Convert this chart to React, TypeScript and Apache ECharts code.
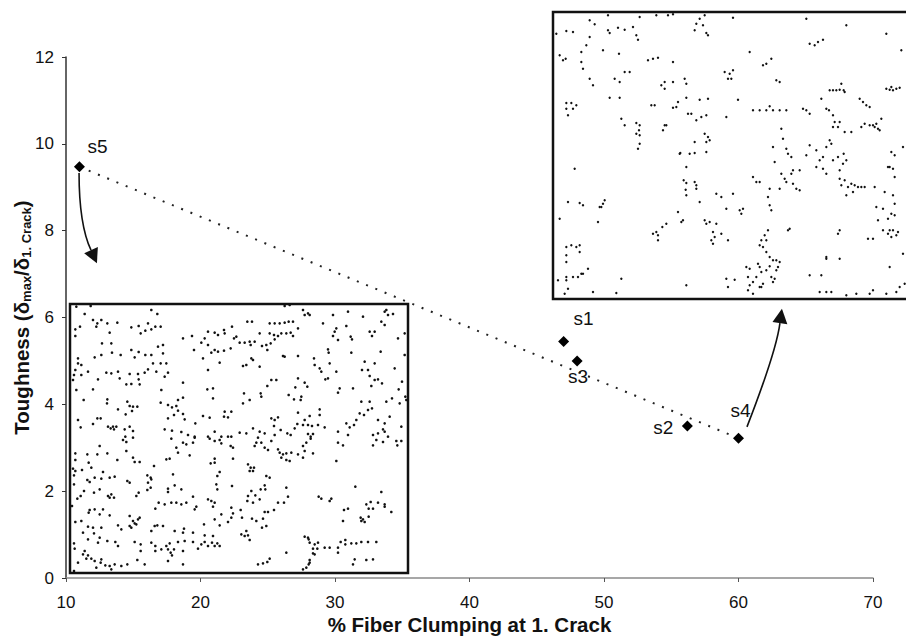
import React, { useEffect, useRef } from "react";
import * as echarts from "echarts";

// ---- main data ----
const sampleNames = ["s5", "s1", "s3", "s2", "s4"];
const clumping = [11, 47, 48, 56.2, 60];
const toughness = [9.47, 5.45, 5.0, 3.5, 3.22];
const trendX = [11, 60];
const trendY = [9.47, 3.22];

// label placement (styling, px offsets from the marker)
const labelOffsets: Record<string, [number, number]> = {
  s5: [18, -20],
  s1: [20, -23],
  s3: [1, 16],
  s2: [-24, 1],
  s4: [2, -28],
};

// arrows in data coordinates: start, control, arrow-base, tip
const arrowLow = [[10.97, 9.33], [10.97, 8.14], [11.86, 7.55], [12.3, 7.25]];
const arrowHigh = [[60.63, 3.48], [62.82, 5.23], [63.08, 5.87], [63.23, 6.2]];

// ---- micrograph fiber positions (inset images), read in tiles ----
// left micrograph (units: 1/3 px), tiles NW, NE(+510 x), SW(+408 y), SE(+510,+408)
const leftNW = [[25,20],[68,18],[50,42],[75,60],[88,70],[85,80],[118,70],[148,68],[125,98],[100,60],[22,88],[22,108],[36,80],[190,82],[212,78],[218,100],[240,70],[232,92],[250,88],[262,80],[268,42],[250,30],[278,80],[102,130],[132,158],[130,130],[80,172],[100,165],[158,165],[190,150],[212,156],[200,172],[232,165],[250,165],[270,140],[285,135],[285,160],[278,190],[255,190],[295,190],[30,175],[30,190],[40,195],[22,210],[18,225],[15,240],[40,225],[60,215],[115,218],[130,220],[150,215],[185,222],[210,222],[230,218],[240,208],[265,215],[290,230],[300,218],[90,238],[155,235],[175,253],[190,252],[215,253],[212,238],[25,270],[75,268],[47,300],[118,298],[117,310],[178,305],[185,318],[195,320],[208,320],[192,333],[150,328],[173,343],[88,355],[98,355],[30,360],[38,382],[75,372],[120,380],[128,385],[135,380],[145,380],[138,388],[170,388],[185,380],[195,393],[172,410],[280,270],[278,308],[300,315],[312,322],[325,318],[330,332],[345,293],[330,300],[345,342],[318,345],[300,355],[350,358],[382,370],[290,388],[312,392],[340,396],[360,405],[380,410],[420,410],[440,395],[460,410],[490,410],[418,268],[435,265],[435,295],[405,348],[425,353],[468,350],[480,352],[490,335],[470,335],[420,210],[345,248],[345,115],[372,108],[400,128],[410,115],[420,95],[440,98],[450,105],[468,90],[492,80],[498,115],[505,110],[488,145],[468,152],[450,155],[430,158],[440,150],[420,135],[405,175],[455,188],[470,100],[378,150]];
const leftNE = [[140,18],[155,15],[195,30],[210,40],[200,45],[215,45],[285,45],[330,35],[375,50],[440,35],[450,45],[465,42],[445,30],[430,65],[440,75],[28,65],[42,65],[95,70],[110,70],[125,70],[140,68],[152,65],[165,65],[180,85],[95,100],[108,105],[120,108],[130,100],[145,100],[158,98],[165,108],[255,70],[290,95],[295,85],[285,108],[300,120],[325,78],[338,110],[342,118],[395,95],[410,95],[402,108],[480,115],[500,100],[5,128],[20,128],[35,125],[50,125],[38,135],[65,100],[72,138],[85,135],[98,130],[110,118],[88,150],[135,168],[140,170],[180,168],[270,148],[272,158],[340,158],[428,155],[40,175],[45,180],[25,195],[15,198],[65,200],[228,175],[245,205],[250,215],[230,195],[275,190],[295,215],[270,235],[262,238],[380,185],[410,190],[372,210],[390,210],[500,165],[470,205],[395,228],[410,240],[420,238],[432,250],[492,245],[180,235],[200,248],[208,260],[100,240],[115,240],[88,258],[18,280],[68,280],[70,290],[35,300],[15,310],[172,262],[152,285],[168,298],[190,290],[188,300],[300,278],[305,265],[345,265],[400,258],[482,268],[370,305],[395,305],[402,325],[390,330],[378,345],[365,340],[445,305],[462,295],[505,300],[485,310],[502,290],[325,370],[348,375],[355,360],[335,382],[420,360],[455,350],[440,370],[435,388],[405,405],[420,400],[490,380],[100,355],[110,360],[120,352],[108,378],[180,338],[200,360],[215,348],[245,328],[245,345],[260,382],[178,372],[195,375],[210,375],[222,378],[240,375],[170,385],[158,405],[210,402],[225,402],[218,410],[5,398],[25,400],[45,385],[65,395],[80,400],[110,405],[128,390],[148,400],[300,395],[330,405],[415,420],[450,410],[440,395]];
const leftSW = [[165,12],[175,18],[195,5],[310,8],[325,35],[330,50],[345,20],[355,25],[375,20],[380,5],[425,8],[440,15],[455,12],[460,22],[488,30],[495,35],[480,2],[22,52],[58,55],[88,55],[118,52],[95,30],[175,45],[195,65],[200,78],[215,78],[148,72],[22,72],[15,98],[22,105],[18,118],[42,102],[62,80],[70,95],[105,108],[80,125],[65,138],[58,132],[100,128],[125,125],[140,122],[178,135],[185,140],[258,90],[295,70],[305,68],[365,58],[428,82],[440,80],[440,68],[455,108],[448,120],[495,68],[492,150],[445,145],[448,160],[18,145],[48,165],[78,170],[95,160],[120,180],[125,185],[130,175],[138,185],[212,170],[205,180],[238,118],[248,125],[240,140],[248,155],[238,162],[250,130],[315,115],[320,148],[300,158],[300,168],[340,160],[375,182],[355,200],[340,205],[325,200],[310,200],[290,205],[272,200],[385,212],[380,220],[420,190],[430,195],[440,200],[435,212],[460,235],[490,215],[490,245],[480,258],[495,232],[28,188],[38,180],[12,210],[62,230],[65,222],[80,220],[95,235],[105,220],[125,238],[150,268],[185,240],[195,255],[200,262],[190,275],[205,265],[210,250],[215,245],[185,270],[160,280],[262,218],[260,270],[268,268],[285,270],[320,285],[348,278],[345,290],[250,285],[22,258],[40,255],[60,272],[75,275],[100,275],[45,290],[78,292],[60,310],[90,320],[118,315],[142,318],[150,330],[95,305],[18,322],[20,338],[50,345],[45,355],[60,358],[70,368],[55,368],[80,375],[100,370],[98,380],[112,388],[125,390],[140,385],[160,390],[178,385],[130,400],[85,395],[30,380],[200,318],[218,325],[218,345],[250,320],[262,330],[262,345],[280,340],[295,330],[300,340],[305,322],[308,350],[312,358],[318,340],[330,318],[345,345],[350,315],[375,318],[390,338],[400,325],[410,298],[410,318],[420,330],[432,320],[440,330],[448,322],[455,330],[435,300],[375,290],[208,372],[230,385],[300,375],[345,385],[408,265],[440,250],[455,268],[18,405]];
const leftSE = [[60,5],[55,20],[70,20],[80,35],[50,30],[100,15],[90,42],[120,40],[125,50],[135,55],[145,52],[130,65],[145,72],[155,75],[160,50],[180,55],[195,30],[200,45],[205,20],[218,8],[195,65],[225,52],[300,20],[315,28],[295,75],[405,28],[435,18],[475,15],[490,15],[478,28],[30,85],[38,95],[35,105],[45,105],[48,95],[85,120],[95,125],[80,148],[68,160],[82,160],[40,165],[52,178],[30,180],[45,200],[28,195],[65,190],[120,200],[138,200],[108,222],[150,182],[145,155],[242,182],[250,188],[280,188],[275,195],[352,152],[430,168],[398,198],[385,205],[420,200],[440,205],[392,218],[405,218],[368,245],[375,250],[380,258],[370,255],[392,242],[440,212],[460,228],[330,218],[318,222],[315,255],[8,222],[12,245],[42,248],[75,248],[80,228],[90,228],[55,255],[72,275],[85,270],[25,285],[30,298],[35,312],[200,302],[210,305],[215,320],[212,310],[225,338],[230,325],[240,320],[238,338],[225,352],[230,355],[260,335],[275,335],[300,335],[308,318],[322,312],[322,325],[340,322],[355,322],[370,318],[390,318],[415,318],[300,350],[145,350],[215,372],[212,385],[215,380],[195,400],[205,395],[60,385],[75,382],[88,378],[95,368],[350,370],[345,385],[385,372],[405,370],[10,295],[20,300]];
const leftTileOffsets = [[0, 0], [510, 0], [0, 408], [510, 408]];

// right micrograph (units: 1/3 px)
const rightFibers = [[50,100],[80,92],[100,95],[150,60],[165,72],[150,110],[140,135],[125,155],[190,150],[205,90],[210,98],[235,82],[255,88],[280,80],[290,105],[295,118],[205,45],[300,50],[350,45],[385,45],[400,42],[480,55],[495,45],[490,75],[470,70],[465,90],[500,98],[505,105],[580,52],[800,55],[920,75],[1040,100],[1085,150],[810,130],[825,135],[835,125],[850,118],[630,155],[670,195],[680,190],[695,175],[710,240],[720,245],[60,165],[70,180],[78,175],[125,185],[130,205],[150,235],[160,255],[238,160],[225,235],[240,245],[255,215],[270,215],[325,180],[340,175],[355,172],[400,185],[365,255],[375,245],[375,265],[400,245],[435,235],[440,250],[555,215],[570,220],[575,235],[565,235],[580,210],[210,292],[240,292],[335,315],[345,315],[400,322],[410,320],[415,305],[440,292],[445,340],[455,340],[480,298],[485,350],[500,345],[505,295],[595,298],[560,350],[470,360],[245,355],[255,375],[290,368],[300,375],[298,390],[290,400],[300,405],[300,430],[295,445],[375,375],[370,390],[380,375],[80,308],[95,308],[80,325],[100,325],[110,315],[85,345],[105,505],[495,400],[505,410],[510,420],[500,425],[465,425],[450,460],[465,458],[422,458],[500,455],[440,500],[432,540],[440,548],[465,545],[470,555],[470,565],[438,568],[420,460],[640,330],[660,330],[680,330],[700,330],[720,330],[740,330],[690,318],[790,325],[800,330],[810,340],[845,295],[860,325],[868,330],[880,345],[885,365],[880,380],[895,380],[900,365],[915,395],[935,395],[870,270],[880,270],[890,270],[900,268],[912,270],[905,250],[915,275],[960,295],[970,305],[980,315],[990,320],[965,380],[975,370],[990,375],[1000,375],[1005,380],[1015,385],[1020,390],[1025,355],[1010,370],[1040,265],[1050,268],[1060,270],[1070,265],[1080,262],[1055,260],[725,385],[730,415],[740,445],[745,460],[755,470],[700,440],[705,485],[760,510],[780,510],[800,465],[810,435],[830,450],[840,480],[830,500],[850,470],[850,505],[860,520],[880,480],[860,440],[870,420],[875,430],[912,460],[920,480],[895,470],[910,490],[900,510],[900,535],[915,540],[905,555],[925,560],[935,550],[945,555],[955,560],[965,560],[940,575],[920,585],[975,560],[1005,560],[1050,500],[1060,505],[1065,530],[1045,500],[1055,455],[1065,465],[1090,440],[640,530],[650,545],[660,545],[690,565],[685,590],[690,615],[695,630],[725,520],[735,535],[740,545],[760,550],[770,565],[780,570],[720,565],[755,520],[415,635],[425,665],[430,660],[440,585],[480,605],[495,660],[500,670],[510,665],[530,670],[520,695],[525,710],[515,720],[520,730],[565,720],[545,700],[530,580],[545,590],[580,580],[600,630],[610,625],[605,640],[560,625],[340,700],[350,695],[355,705],[355,720],[368,680],[380,670],[175,665],[195,600],[190,610],[185,620],[180,620],[130,615],[120,608],[85,605],[60,655],[80,740],[95,735],[80,765],[80,785],[110,740],[120,735],[120,755],[125,820],[130,820],[145,805],[115,830],[100,830],[80,840],[85,865],[75,880],[55,840],[80,830],[160,875],[230,878],[245,835],[440,855],[560,835],[565,860],[585,838],[620,800],[630,805],[625,830],[630,855],[640,845],[650,830],[655,790],[660,800],[665,815],[665,860],[670,850],[680,810],[690,798],[695,830],[700,845],[705,835],[710,810],[715,800],[720,785],[710,780],[690,770],[700,780],[680,755],[670,740],[660,735],[675,705],[680,720],[685,690],[665,720],[625,870],[640,880],[660,860],[810,825],[845,825],[860,775],[900,775],[840,875],[860,875],[875,875],[1050,800],[1060,690],[1045,700],[1055,710],[1070,705],[1075,695],[1050,690],[1030,690],[1000,715],[985,715],[1045,655],[1055,640],[1065,645],[1015,660],[1010,620],[1030,625],[1035,575],[1060,585],[1065,610],[1090,760],[1095,850],[1080,860],[1070,875],[1040,880],[1000,870],[990,880],[950,880],[920,885],[895,700],[900,690],[860,770],[750,685],[745,690]];

const FONT = "'Liberation Sans', Arial, Helvetica, sans-serif";

export default function App() {
  const ref = useRef<HTMLDivElement>(null);
  useEffect(() => {
    if (!ref.current) return;
    const chart = echarts.init(ref.current, undefined, { renderer: "svg" });

    const leftFibers: number[][] = [];
    [leftNW, leftNE, leftSW, leftSE].forEach((tile, i) => {
      const [ox, oy] = leftTileOffsets[i];
      tile.forEach(([x, y]) => leftFibers.push([x + ox, y + oy]));
    });

    const points = sampleNames.map((n, i) => ({
      name: n,
      value: [clumping[i], toughness[i]],
      label: {
        show: true,
        formatter: n,
        position: "inside",
        offset: labelOffsets[n],
        fontSize: 19,
        color: "#111111",
        fontFamily: FONT,
      },
    }));

    const dotStyle = { color: "#111111", opacity: 1 };

    chart.setOption({
      animation: false,
      backgroundColor: "#ffffff",
      textStyle: { fontFamily: FONT },
      grid: [
        { left: 66, right: 33, top: 57, bottom: 61, containLabel: false, outerBoundsMode: "none" },
        {
          left: 70, top: 304, width: 338, height: 269, show: true, outerBoundsMode: "none",
          backgroundColor: "#ffffff", borderColor: "#111111", borderWidth: 2.5, z: 5,
        },
        {
          left: 553, top: 12, width: 358, height: 287, show: true, outerBoundsMode: "none",
          backgroundColor: "#ffffff", borderColor: "#111111", borderWidth: 2.5, z: 5,
        },
      ],
      xAxis: [
        {
          type: "value", gridIndex: 0, min: 10, max: 70, interval: 10,
          name: "% Fiber Clumping at 1. Crack",
          nameLocation: "middle", nameGap: 36, nameMoveOverlap: false,
          nameTextStyle: { fontSize: 20.5, fontWeight: "bold", color: "#111111", fontFamily: FONT },
          axisLine: { show: true, onZero: false, lineStyle: { color: "#8a8a8a", width: 1.5 } },
          axisTick: { show: true, length: 4, lineStyle: { color: "#555" } },
          axisLabel: { fontSize: 17, color: "#111111", margin: 16, fontFamily: FONT },
          splitLine: { show: false },
        },
        { type: "value", gridIndex: 1, min: 6, max: 1020, show: false },
        { type: "value", gridIndex: 2, min: 40, max: 1114, show: false },
      ],
      yAxis: [
        {
          type: "value", gridIndex: 0, min: 0, max: 12, interval: 2,
          name: "{b|Toughness (δ}{s|max}{b|/δ}{s|1. Crack}{b|)}",
          nameLocation: "middle", nameGap: 32, nameMoveOverlap: false,
          nameTextStyle: {
            color: "#111111",
            rich: {
              b: { fontSize: 20.5, fontWeight: "bold", fontFamily: FONT, color: "#111111", lineHeight: 26 },
              s: { fontSize: 13, fontWeight: "bold", fontFamily: FONT, color: "#111111", padding: [11, 0, 0, 0] },
            },
          },
          axisLine: { show: true, onZero: false, lineStyle: { color: "#333", width: 1.5 } },
          axisTick: { show: true, length: 4, lineStyle: { color: "#333" } },
          axisLabel: { fontSize: 17, color: "#111111", margin: 12, fontFamily: FONT },
          splitLine: { show: false },
        },
        { type: "value", gridIndex: 1, min: 12, max: 819, inverse: true, show: false },
        { type: "value", gridIndex: 2, min: 35, max: 896, inverse: true, show: false },
      ],
      series: [
        {
          type: "line",
          xAxisIndex: 0, yAxisIndex: 0,
          data: trendX.map((x, i) => [x, trendY[i]]),
          symbol: "none",
          lineStyle: { color: "#222", width: 2, type: [2, 8] },
          z: 2,
        },
        {
          type: "scatter",
          xAxisIndex: 0, yAxisIndex: 0,
          data: points,
          symbol: "diamond",
          symbolSize: 11,
          itemStyle: { color: "#000000", opacity: 1 },
          z: 4,
        },
        {
          type: "scatter",
          xAxisIndex: 1, yAxisIndex: 1,
          data: leftFibers,
          symbol: "circle",
          symbolSize: 2.6,
          itemStyle: dotStyle,
          silent: true,
          z: 6,
        },
        {
          type: "scatter",
          xAxisIndex: 2, yAxisIndex: 2,
          data: rightFibers,
          symbol: "circle",
          symbolSize: 2.4,
          itemStyle: dotStyle,
          silent: true,
          z: 6,
        },
      ],
    });

    const px = (p: number[]) => chart.convertToPixel({ gridIndex: 0 }, p) as number[];
    const arrowGraphics = (a: number[][]) => {
      const [s, c, b, t] = a.map(px);
      const dx = t[0] - b[0];
      const dy = t[1] - b[1];
      const len = Math.hypot(dx, dy) || 1;
      const nx = -dy / len;
      const ny = dx / len;
      const hw = 7.5;
      return [
        {
          type: "bezierCurve",
          shape: { x1: s[0], y1: s[1], cpx1: c[0], cpy1: c[1], x2: b[0], y2: b[1] },
          style: { stroke: "#111", lineWidth: 1.6, fill: null },
          z: 10,
        },
        {
          type: "polygon",
          shape: { points: [[b[0] + nx * hw, b[1] + ny * hw], [t[0], t[1]], [b[0] - nx * hw, b[1] - ny * hw]] },
          style: { fill: "#111" },
          z: 10,
        },
      ];
    };
    chart.setOption({ graphic: [...arrowGraphics(arrowLow), ...arrowGraphics(arrowHigh)] });

    return () => chart.dispose();
  }, []);

  return (
    <div
      ref={ref}
      style={{ position: "fixed", left: 0, top: 0, width: 906, height: 639, background: "#fff" }}
    />
  );
}
